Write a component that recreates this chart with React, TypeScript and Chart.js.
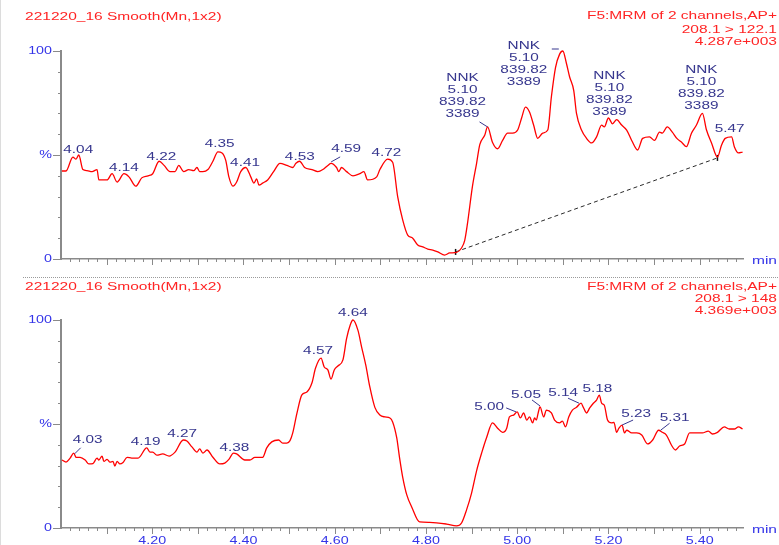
import React, { useEffect, useRef } from 'react';
import { Chart, registerables } from 'chart.js';

Chart.register(...registerables);

// ---- time axis (minutes) ----
const TIME_MIN = 4.0;
const TIME_MAX = 5.495;
const X_TICK_LABELS = ['4.20', '4.40', '4.60', '4.80', '5.00', '5.20', '5.40'];
const Y_TICK_LABELS: [number, string][] = [[100, '100'], [50, '%'], [0, '0']];

// ---- channel 1: 208.1 > 122.1 (relative intensity, %) ----
const CH1_TIME = [
  4.002, 4.011, 4.026, 4.033, 4.039, 4.048, 4.057, 4.068, 4.079, 4.083,
  4.101, 4.112, 4.123, 4.138, 4.149, 4.164, 4.177, 4.191, 4.201, 4.215,
  4.226, 4.239, 4.250, 4.258, 4.269, 4.280, 4.291, 4.298, 4.304, 4.311,
  4.322, 4.333, 4.344, 4.353, 4.361, 4.368, 4.377, 4.385, 4.394, 4.405,
  4.416, 4.423, 4.429, 4.434, 4.442, 4.453, 4.466, 4.480, 4.495, 4.508,
  4.515, 4.523, 4.534, 4.550, 4.563, 4.574, 4.585, 4.592, 4.604, 4.609,
  4.615, 4.626, 4.640, 4.655, 4.664, 4.672, 4.692, 4.699, 4.716, 4.727,
  4.738, 4.749, 4.760, 4.771, 4.782, 4.793, 4.804, 4.815, 4.826, 4.841,
  4.852, 4.867, 4.878, 4.885, 4.891, 4.902, 4.911, 4.918, 4.929, 4.935,
  4.946, 4.957, 4.968, 4.979, 4.990, 5.001, 5.010, 5.018, 5.027, 5.036,
  5.045, 5.056, 5.067, 5.075, 5.084, 5.093, 5.100, 5.108, 5.115, 5.124,
  5.130, 5.141, 5.152, 5.163, 5.174, 5.185, 5.191, 5.200, 5.209, 5.218,
  5.229, 5.240, 5.251, 5.264, 5.275, 5.290, 5.301, 5.312, 5.318, 5.329,
  5.340, 5.350, 5.361, 5.371, 5.382, 5.393, 5.406, 5.415, 5.426, 5.439,
  5.448, 5.456, 5.470, 5.476, 5.485, 5.494,
];
const CH1_PCT = [
  42.3, 42.3, 49, 48, 50, 43, 42.5, 42, 43, 38,
  38, 41, 37, 41, 39.5, 35, 39, 40, 41, 47,
  45, 42, 42, 45, 42, 43, 42.5, 44, 42, 42,
  43, 47, 51.5, 51, 47.5, 39.5, 35, 37, 42, 44,
  39.5, 36.5, 38.5, 35.5, 36.5, 38, 42, 46, 45, 44,
  46, 47, 44, 43, 42, 43, 45, 46, 44, 42,
  44, 42, 40, 41, 42, 38, 39.5, 43, 48, 46.5,
  30, 18.8, 11.5, 10, 6.7, 5.8, 4.8, 4.3, 3.4, 1.9,
  2.9, 3.2, 5.3, 9, 17, 35, 46, 55, 59.6, 63.5,
  56, 53, 57, 60.5, 60.5, 62, 68, 73, 70.7, 64.4,
  58, 60.5, 62, 78, 92, 98.5, 100, 94, 87.5, 81,
  70, 62, 58, 55.8, 58.7, 64.4, 63.5, 67.8, 65, 67,
  64.4, 62, 57, 52.4, 58, 58.7, 57, 61, 60.5, 63.5,
  61, 58, 56, 54, 60.5, 64.4, 70, 62, 55.8, 49,
  54.8, 58, 58.7, 54, 51, 51.4,
];

// integration baseline under the NNK peak of channel 1
const CH1_BASELINE_TIME = [4.865, 5.439];
const CH1_BASELINE_PCT = [3.4, 48.6];

// ---- channel 2: 208.1 > 148 (relative intensity, %) ----
const CH2_TIME = [
  4.002, 4.011, 4.020, 4.028, 4.033, 4.042, 4.053, 4.061, 4.070, 4.079,
  4.083, 4.090, 4.094, 4.101, 4.107, 4.114, 4.118, 4.123, 4.129, 4.136,
  4.145, 4.155, 4.169, 4.188, 4.195, 4.201, 4.210, 4.223, 4.237, 4.250,
  4.268, 4.276, 4.287, 4.298, 4.304, 4.311, 4.320, 4.333, 4.348, 4.359,
  4.368, 4.378, 4.385, 4.403, 4.414, 4.425, 4.442, 4.451, 4.462, 4.477,
  4.486, 4.495, 4.502, 4.508, 4.517, 4.528, 4.539, 4.550, 4.558, 4.570,
  4.577, 4.585, 4.592, 4.599, 4.607, 4.618, 4.626, 4.634, 4.640, 4.651,
  4.659, 4.668, 4.677, 4.688, 4.699, 4.710, 4.721, 4.727, 4.736, 4.742,
  4.749, 4.758, 4.769, 4.786, 4.808, 4.845, 4.867, 4.878, 4.889, 4.900,
  4.911, 4.922, 4.933, 4.946, 4.957, 4.968, 4.977, 4.983, 4.992, 5.000,
  5.007, 5.014, 5.021, 5.027, 5.034, 5.038, 5.042, 5.046, 5.050, 5.058,
  5.064, 5.075, 5.082, 5.093, 5.099, 5.106, 5.113, 5.121, 5.130, 5.140,
  5.145, 5.152, 5.159, 5.167, 5.174, 5.180, 5.185, 5.191, 5.198, 5.207,
  5.212, 5.218, 5.223, 5.230, 5.235, 5.240, 5.251, 5.262, 5.273, 5.286,
  5.297, 5.310, 5.318, 5.327, 5.338, 5.347, 5.356, 5.367, 5.378, 5.393,
  5.406, 5.419, 5.428, 5.439, 5.454, 5.465, 5.476, 5.485, 5.494,
];
const CH2_PCT = [
  32.7, 31.7, 33.6, 36, 34, 34, 32.7, 30.8, 31, 33.6,
  32.7, 34.6, 32, 33, 31.7, 32, 29.8, 32, 30.8, 31.5,
  34, 33.6, 33.6, 38.5, 36.5, 36.5, 35, 35.6, 34.6, 36.5,
  42.3, 41.8, 39, 36.5, 38, 36, 37.5, 34, 30.8, 31.2,
  33, 36, 35.6, 32.7, 32.7, 34, 34, 38.5, 41.4, 42.3,
  40.8, 40.8, 42, 45.7, 55, 64, 65.4, 69.7, 76.9, 81.7,
  77.4, 76, 71.6, 76, 77.9, 80.8, 91, 97.6, 100, 95,
  87, 78.4, 67.8, 58, 54.3, 53.4, 52.9, 51, 43.3, 34,
  24.5, 15.9, 10, 2.9, 2.7, 1.9, 1, 2.4, 8.7, 16.8,
  27.5, 36, 43.5, 50.5, 48, 46, 48, 53.4, 54.3, 55.8,
  52.9, 55.3, 51.9, 53.4, 50.5, 52.9, 51.9, 55.3, 58.2, 53.4,
  56.7, 55.3, 51.9, 50.5, 51.4, 48.6, 53.4, 56.7, 58, 60,
  58, 55.3, 57.7, 60, 61.5, 63.9, 60, 59, 51.9, 50.5,
  50.8, 46, 48, 49.5, 45.7, 47, 45.7, 45.7, 44.7, 40.4,
  42.3, 47, 46, 44.7, 39.9, 37.5, 39.4, 40.4, 45.7, 45.7,
  45.7, 46.6, 45.2, 46, 48.6, 47.6, 47.6, 48.6, 47.6,
];

// ---- peak annotations ----
const CH1_PEAK_RT = [4.04, 4.14, 4.22, 4.35, 4.41, 4.53, 4.59, 4.72, 5.47];
const CH2_PEAK_RT = [4.03, 4.19, 4.27, 4.38, 4.57, 4.64, 5.0, 5.05, 5.14, 5.18, 5.23, 5.31];
const NNK_PEAK_RT = [4.935, 5.1, 5.2, 5.406];
const NNK_TEXT = ['NNK', '5.10', '839.82', '3389'];

// ---- headers ----
const SAMPLE_TITLE = '221220_16 Smooth(Mn,1x2)';
const CH1_HEADER = ['F5:MRM of 2 channels,AP+', '208.1 > 122.1', '4.287e+003'];
const CH2_HEADER = ['F5:MRM of 2 channels,AP+', '208.1 > 148', '4.369e+003'];

// ---- styling ----
const AXIS_GREY = '#8a8a8a';
const TICK_BLUE = '#3434e8';
const NOTE_BLUE = '#36368e';
const TITLE_RED = '#ff2424';
const TRACE_RED = '#ff0000';

type Leader = [number, number, number, number];
interface Place { dx: number; dy: number; leader?: Leader }

// label placement relative to the peak apex, in pixels
const CH1_PLACES: Place[] = [
  { dx: -1, dy: -7 }, { dx: -1, dy: -6 }, { dx: 0, dy: -6 }, { dx: -1, dy: -8 },
  { dx: -3, dy: -9 }, { dx: -3, dy: -8 }, { dx: 16, dy: -15, leader: [1, -2, 10, -7] },
  { dx: -3, dy: -7 }, { dx: -2, dy: -8 },
];
const NNK_PLACES: Place[] = [
  { dx: -25, dy: -13, leader: [-8, -5, 0, 0] },
  { dx: -39, dy: 31, leader: [-11, -2, -4, -2] },
  { dx: 1, dy: -6 },
  { dx: -1, dy: -7 },
];
const CH2_PLACES: Place[] = [
  { dx: 13, dy: -15, leader: [0, -1, 6, -7] }, { dx: -2, dy: -7 }, { dx: -2, dy: -6 },
  { dx: 0, dy: -5 }, { dx: -3, dy: -7 }, { dx: 0, dy: -7 },
  { dx: -28, dy: -5, leader: [-11, -4, -1, 0] }, { dx: -14, dy: -12, leader: [-8, -7, 0, -1] },
  { dx: -18, dy: -10, leader: [-13, -5, -2, 0] }, { dx: -2, dy: -6 },
  { dx: 14, dy: -11, leader: [0, 0, 11, -5] }, { dx: 16, dy: -12, leader: [2, 0, 11, -7] },
];

function valueAt(ts: number[], vs: number[], t: number): number {
  for (let i = 0; i < ts.length - 1; i++) {
    if (t >= ts[i] && t <= ts[i + 1]) {
      const f = (t - ts[i]) / (ts[i + 1] - ts[i] || 1);
      return vs[i] + f * (vs[i + 1] - vs[i]);
    }
  }
  return vs[vs.length - 1];
}

// MassLynx-style wide sans text
function wideText(
  ctx: CanvasRenderingContext2D, text: string, x: number, y: number,
  align: 'left' | 'center' | 'right', color: string, size: number, sx: number,
) {
  ctx.save();
  ctx.font = `${size}px "Liberation Sans", Arial, sans-serif`;
  ctx.fillStyle = color;
  ctx.textBaseline = 'middle';
  ctx.textAlign = 'left';
  const w = ctx.measureText(text).width * sx;
  const left = align === 'left' ? x : align === 'right' ? x - w : x - w / 2;
  ctx.translate(left, y);
  ctx.scale(sx, 1);
  ctx.fillText(text, 0, 0);
  ctx.restore();
}

interface Note { rt: number; lines: string[]; place: Place }

interface Panel {
  time: number[];
  pct: number[];
  header: string[];
  headerY: number[];
  titleY: number;
  notes: Note[];
  baseline?: { time: number[]; pct: number[] };
  showTickLabels: boolean;
  divider: boolean;
  canvasTop: number;
  canvasHeight: number;
  plotTop: number;
  xAxisHeight: number;
}

const PANELS: Panel[] = [
  {
    time: CH1_TIME,
    pct: CH1_PCT,
    header: CH1_HEADER,
    headerY: [16, 30, 42],
    titleY: 17,
    notes: [
      ...CH1_PEAK_RT.map((rt, i) => ({ rt, lines: [rt.toFixed(2)], place: CH1_PLACES[i] })),
      ...NNK_PEAK_RT.map((rt, i) => ({ rt, lines: NNK_TEXT, place: NNK_PLACES[i] })),
    ],
    baseline: { time: CH1_BASELINE_TIME, pct: CH1_BASELINE_PCT },
    showTickLabels: false,
    divider: false,
    canvasTop: 0,
    canvasHeight: 272,
    plotTop: 51,
    xAxisHeight: 13,
  },
  {
    time: CH2_TIME,
    pct: CH2_PCT,
    header: CH2_HEADER,
    headerY: [14.5, 26.5, 38.5],
    titleY: 14.7,
    notes: CH2_PEAK_RT.map((rt, i) => ({ rt, lines: [rt.toFixed(2)], place: CH2_PLACES[i] })),
    showTickLabels: true,
    divider: true,
    canvasTop: 272,
    canvasHeight: 273,
    plotTop: 48,
    xAxisHeight: 17,
  },
];

const WIDTH = 779;

function makeDecor(p: Panel) {
  return {
    id: 'chromDecor',
    afterDraw(chart: Chart) {
      const ctx = chart.ctx;
      const xs = chart.scales.x;
      const ys = chart.scales.y;
      const area = chart.chartArea;
      const seg = (x1: number, y1: number, x2: number, y2: number) => {
        ctx.beginPath();
        ctx.moveTo(x1, y1);
        ctx.lineTo(x2, y2);
        ctx.stroke();
      };
      ctx.save();

      // window edge
      ctx.strokeStyle = '#dcdcdc';
      ctx.lineWidth = 1;
      seg(0.5, 0, 0.5, chart.height);

      // panel separator
      if (p.divider) {
        ctx.strokeStyle = '#9a9a9a';
        ctx.setLineDash([1, 1]);
        seg(23, 5.5, chart.width, 5.5);
        ctx.setLineDash([]);
      }

      // axis tick marks
      ctx.strokeStyle = AXIS_GREY;
      ctx.lineWidth = 1;
      for (let k = 1; TIME_MIN + k * 0.02 <= TIME_MAX; k++) {
        const px = Math.round(xs.getPixelForValue(TIME_MIN + k * 0.02)) + 0.5;
        seg(px, area.bottom, px, area.bottom + (k % 5 === 0 ? 6 : 3));
      }
      for (let v = 0; v <= 100; v += 10) {
        const py = Math.round(ys.getPixelForValue(v)) + 0.5;
        seg(area.left - (v % 50 === 0 ? 8 : 3), py, area.left, py);
      }

      // tick labels
      Y_TICK_LABELS.forEach(([v, s]) => {
        wideText(ctx, s, area.left - 9, ys.getPixelForValue(v), 'right', TICK_BLUE, 11, 1.3);
      });
      if (p.showTickLabels) {
        X_TICK_LABELS.forEach((s) => {
          wideText(ctx, s, xs.getPixelForValue(Number(s)), area.bottom + 13, 'center', TICK_BLUE, 11, 1.3);
        });
      }

      // axis unit
      wideText(ctx, 'min', area.right + 9, area.bottom + 2, 'left', TICK_BLUE, 11, 1.41);

      // headers
      wideText(ctx, SAMPLE_TITLE, 25, p.titleY, 'left', TITLE_RED, 11, 1.41);
      p.header.forEach((line, i) => wideText(ctx, line, 777, p.headerY[i], 'right', TITLE_RED, 11, 1.41));

      // peak labels
      ctx.strokeStyle = NOTE_BLUE;
      ctx.lineWidth = 1;
      p.notes.forEach((n) => {
        const ax = xs.getPixelForValue(n.rt);
        const ay = ys.getPixelForValue(valueAt(p.time, p.pct, n.rt));
        const last = n.lines.length - 1;
        n.lines.forEach((line, i) => {
          wideText(ctx, line, ax + n.place.dx, ay + n.place.dy - (last - i) * 12, 'center', NOTE_BLUE, 10.5, 1.46);
        });
        if (n.place.leader) {
          const [x1, y1, x2, y2] = n.place.leader;
          seg(ax + x1, ay + y1, ax + x2, ay + y2);
        }
      });
      ctx.restore();
    },
  };
}

function ChromPanel({ p }: { p: Panel }) {
  const ref = useRef<HTMLCanvasElement | null>(null);

  useEffect(() => {
    if (!ref.current) return;
    const datasets: any[] = [
      {
        data: p.time.map((t, i) => ({ x: t, y: p.pct[i] })),
        borderColor: TRACE_RED,
        borderWidth: 1.3,
        pointRadius: 0,
        cubicInterpolationMode: 'monotone',
        clip: 3,
      },
    ];
    if (p.baseline) {
      const b = p.baseline;
      datasets.push({
        data: b.time.map((t, i) => ({ x: t, y: b.pct[i] })),
        borderColor: '#2a2a2a',
        borderWidth: 1,
        borderDash: [4, 3],
        pointRadius: 3,
        pointStyle: 'line',
        pointRotation: 90,
        pointBorderColor: '#111',
        pointBorderWidth: 1.5,
        clip: 5,
      });
    }
    const chart = new Chart(ref.current, {
      type: 'line',
      data: { datasets },
      options: {
        animation: false,
        responsive: false,
        devicePixelRatio: 1,
        events: [],
        layout: { padding: { left: 0, right: 36, top: p.plotTop, bottom: 0 } },
        plugins: { legend: { display: false }, tooltip: { enabled: false } },
        scales: {
          x: {
            type: 'linear',
            min: TIME_MIN,
            max: TIME_MAX,
            afterFit: (s: any) => { s.height = p.xAxisHeight; },
            grid: { display: false, drawTicks: false },
            border: { color: AXIS_GREY, width: 1.5 },
            ticks: { display: false, stepSize: 0.02, includeBounds: false },
          },
          y: {
            min: 0,
            max: 100,
            afterFit: (s: any) => { s.width = 61; },
            grid: { display: false, drawTicks: false },
            border: { color: AXIS_GREY, width: 2 },
            ticks: { display: false, stepSize: 10 },
          },
        },
      },
      plugins: [makeDecor(p)],
    } as any);
    return () => chart.destroy();
  }, [p]);

  return (
    <canvas
      ref={ref}
      width={WIDTH}
      height={p.canvasHeight}
      style={{ position: 'absolute', left: 0, top: p.canvasTop, width: WIDTH, height: p.canvasHeight }}
    />
  );
}

export default function App() {
  return (
    <div style={{ position: 'absolute', left: 0, top: 0, width: WIDTH, height: 545, background: '#fff' }}>
      {PANELS.map((p, i) => (
        <ChromPanel key={i} p={p} />
      ))}
    </div>
  );
}
